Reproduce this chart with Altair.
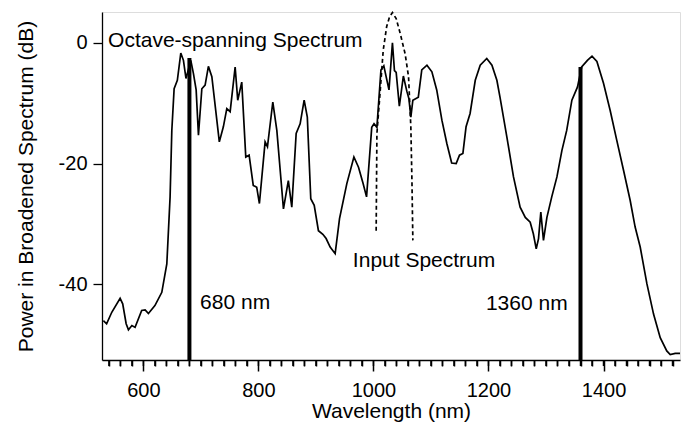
import altair as alt
import pandas as pd

# Broadened (octave-spanning) spectrum
wl = [530.4, 536, 545, 559.5, 564, 570, 574, 580, 585.5, 597, 603, 608.7, 620, 632,
      640.7, 646.4, 649.4, 653.4, 659, 665, 669.6, 674, 678, 682.4, 687, 691.7, 695.7,
      701.6, 707.3, 713, 719, 732, 739, 745, 750.8, 759.5, 764, 771, 778, 783.8, 791,
      797, 801.7, 811.6, 815.7, 825, 832, 843.5, 852, 858, 865.6, 872.5, 879.5, 885,
      891, 897, 904.3, 912, 917.7, 924.7, 933.4, 941, 953.7, 966, 974, 982, 988, 997,
      1001, 1006, 1013, 1018, 1027, 1033, 1036.5, 1039.5, 1045, 1052, 1058, 1061.6,
      1065, 1068.5, 1078, 1084, 1093, 1101.6, 1110, 1119, 1127.7, 1136, 1143.8,
      1149.6, 1155.5, 1161, 1168, 1177, 1185.6, 1197, 1206, 1214.6, 1220, 1232,
      1243.5, 1255, 1264, 1272.5, 1278, 1283, 1287, 1291, 1295.6, 1301.6, 1310, 1319,
      1327.7, 1336, 1345, 1354.8, 1362, 1372, 1380, 1388.5, 1400, 1411.6, 1423,
      1434.8, 1446.4, 1455, 1463.8, 1475.5, 1487, 1498.6, 1510, 1516, 1524.7, 1533]
db = [-46.0, -46.5, -44.6, -42.3, -43.2, -46.5, -47.5, -46.8, -47.1, -44.3, -44.2,
      -44.8, -43.5, -41.3, -36.6, -25.5, -14.5, -7.6, -6.2, -1.7, -2.9, -5.9, -4.5,
      -2.9, -5.1, -7.8, -15.3, -7.6, -7.0, -3.9, -5.6, -16.4, -13.9, -10.9, -11.4,
      -4.0, -9.5, -6.5, -18.9, -18.6, -23.6, -23.9, -26.6, -16.4, -17.2, -9.8, -14.5,
      -27.5, -22.8, -27.2, -15.0, -13.4, -9.5, -12.3, -25.8, -26.9, -31.1, -31.7,
      -32.4, -33.8, -34.9, -29.1, -23.3, -18.9, -20.6, -23.3, -25.5, -14.0, -13.4,
      -14.0, -4.5, -3.8, -7.8, 0.0, -4.6, -4.9, -10.5, -5.5, -8.0, -9.2, -12.3, -9.5,
      -9.0, -4.5, -3.7, -4.8, -7.8, -12.8, -16.7, -19.9, -20.0, -18.6, -18.3, -13.9,
      -11.7, -6.2, -3.7, -2.6, -3.7, -6.2, -9.0, -15.6, -22.2, -27.2, -28.9, -29.7,
      -31.6, -34.1, -32.4, -28.0, -32.7, -28.9, -25.5, -22.2, -17.8, -14.5, -9.5,
      -7.3, -4.0, -2.9, -2.2, -3.1, -6.7, -11.2, -16.1, -21.1, -26.1, -30.5, -33.8,
      -39.9, -44.9, -48.8, -51.0, -51.6, -51.4, -51.4]

# Input spectrum (dashed)
in_wl = [1004.7, 1006, 1010.5, 1017, 1023, 1028, 1033, 1039.5, 1046.4, 1055, 1061,
         1065, 1067, 1068.5]
in_db = [-31.1, -15.0, -9.5, -1.2, 2.7, 4.3, 5.0, 4.0, 1.6, -1.8, -5.6, -13.9, -23.3,
         -32.7]

# Octave markers
marker_nm = [680, 1360]
marker_top = [-2.5, -4.0]

# Axis ticks (every 20 nm; labelled every 200 nm)
x_ticks = [540, 560, 580, 600, 620, 640, 660, 680, 700, 720, 740, 760, 780, 800,
           820, 840, 860, 880, 900, 920, 940, 960, 980, 1000,
           1020, 1040, 1060, 1080, 1100, 1120, 1140, 1160, 1180, 1200,
           1220, 1240, 1260, 1280, 1300, 1320, 1340, 1360, 1380, 1400,
           1420, 1440, 1460, 1480, 1500, 1520]
y_ticks = [0, -20, -40]

# Annotations
ann_text = ["Octave-spanning Spectrum", "Input Spectrum", "680 nm", "1360 nm"]
ann_nm = [538.6, 964.2, 698.6, 1195.5]
ann_db = [-0.63, -37.1, -44.0, -44.3]

FONT = "Liberation Sans"
FS = 20   # tick labels
FT = 21   # titles and annotations
Y_MIN, Y_MAX = -52.5, 5.1
H = 348
MAJOR = "datum.value % 200 == 0"

main_df = pd.DataFrame({"nm": wl, "db": db, "i": list(range(len(wl)))})
in_df = pd.DataFrame({"nm": in_wl, "db": in_db, "i": list(range(len(in_wl)))})
mark_df = pd.DataFrame({"nm": marker_nm, "top": marker_top, "bottom": [Y_MIN] * 2})
minor_df = pd.DataFrame({"nm": x_ticks, "lo": [Y_MIN] * len(x_ticks),
                         "hi": [Y_MIN - 1.0] * len(x_ticks)})
ann_df = pd.DataFrame({"nm": ann_nm, "db": ann_db, "t": ann_text})

xs = alt.Scale(domain=[528, 1533], nice=False, zero=False)
ys = alt.Scale(domain=[Y_MIN, Y_MAX], nice=False, zero=False)

x_axis = alt.Axis(values=x_ticks,
                  tickSize={"condition": {"test": MAJOR, "value": 11}, "value": 6},
                  labelPadding=9, title="Wavelength (nm)",
                  titleY=57, titleBaseline="alphabetic", titleFontWeight="normal",
                  labelExpr=MAJOR + " ? '' + datum.value : ''", labelOverlap=False,
                  labelFontSize=FS, titleFontSize=FT, labelFont=FONT, titleFont=FONT,
                  grid=False, domainColor="black", tickColor="black", labelColor="black",
                  titleColor="black", domainWidth=1.3, tickWidth=1.5, labelFlush=False)
y_axis = alt.Axis(values=y_ticks, tickSize=9, labelPadding=6,
                  title="Power in Broadened Spectrum (dB)", titleX=-70, titleY=H / 2,
                  titleAlign="center", titleBaseline="alphabetic", titleFontWeight="normal",
                  labelExpr="'' + datum.value",
                  labelFontSize=FS, titleFontSize=FT, labelFont=FONT, titleFont=FONT,
                  grid=False, domainColor="black", tickColor="black", labelColor="black",
                  titleColor="black", domainWidth=1.3, tickWidth=1.3)

X = alt.X("nm:Q", scale=xs, axis=x_axis, title="Wavelength (nm)")


def Y(field):
    return alt.Y(field, scale=ys, axis=y_axis, title="Power in Broadened Spectrum (dB)")


main = alt.Chart(main_df).mark_line(color="black", strokeWidth=1.7).encode(
    x=X, y=Y("db:Q"), order="i:Q",
)

inp = alt.Chart(in_df).mark_line(color="black", strokeWidth=1.7, strokeDash=[4, 3]).encode(
    x=X, y=Y("db:Q"), order="i:Q",
)

bars = alt.Chart(mark_df).mark_rule(color="black", strokeWidth=4).encode(
    x=X, y=Y("bottom:Q"), y2="top:Q",
)

# extra layer of short tick rules hanging below the axis (backup for axis minor ticks)
minor = alt.Chart(minor_df).mark_rule(color="black", strokeWidth=1.5, clip=False).encode(
    x=X, y=Y("lo:Q"), y2="hi:Q",
)

texts = alt.Chart(ann_df).mark_text(align="left", baseline="alphabetic", font=FONT,
                                    fontSize=FT, color="black").encode(
    x=X, y=Y("db:Q"), text="t:N",
)

chart = alt.layer(main, inp, bars, minor, texts).properties(
    width=578, height=H,
    padding={"left": 94, "top": 4, "right": 4, "bottom": 68},
    autosize="none",
).configure_view(stroke=None).configure(background="white")

chart.save("out.html", embed_options={"renderer": "svg", "actions": False})
